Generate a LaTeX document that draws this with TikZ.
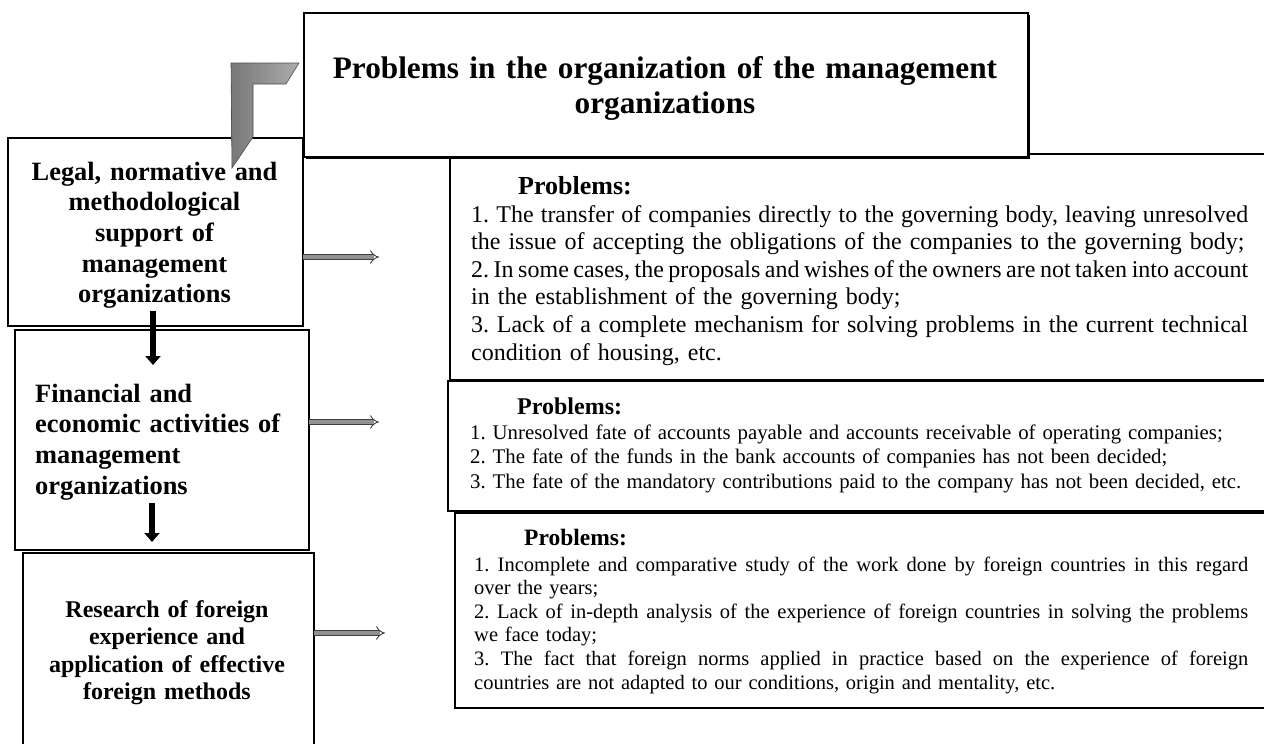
\documentclass[tikz,border=0pt]{standalone}
\usepackage{fontspec}
\setmainfont{Liberation Serif}
\usetikzlibrary{arrows.meta,shadows}
\definecolor{bentL}{RGB}{120,120,120}
\definecolor{bentR}{RGB}{172,172,172}
\definecolor{arrowfill}{RGB}{145,145,145}
\newcommand{\jl}[1]{\leavevmode{\spaceskip=0.25em plus 1em minus 0.1em\relax\hbox to\linewidth{#1}}}
\tikzset{
  frame/.style={draw=black, line width=1.5pt, fill=white, inner sep=0pt, anchor=north west,
    drop shadow={shadow xshift=1.5pt, shadow yshift=-1.5pt, opacity=1, fill=black}},
  titleframe/.style={frame, line width=2pt,
    drop shadow={shadow xshift=2pt, shadow yshift=-2pt, opacity=1, fill=black}},
  lefttext/.style={inner sep=0pt, font=\frenchspacing\fontsize{26.4}{30.7}\selectfont\bfseries},
  probtext/.style={inner sep=0pt, anchor=base west, align=left},
  garrow/.style={draw=black!75, line width=0.9pt, double=arrowfill, double distance=3.8pt, -{Implies}},
  barrow/.style={line width=6.5pt, -{Triangle[length=9pt,width=15pt]}},
}
\begin{document}
\frenchspacing
\begin{tikzpicture}[x=1pt,y=-1pt]
\useasboundingbox (0,0) rectangle (1264,744);
\clip (0,0) rectangle (1264,744);

% left boxes
\node[frame, minimum width=295pt, minimum height=188pt] (b1) at (7,137) {};
\node[frame, minimum width=294pt, minimum height=220pt] (b2) at (14,329) {};
\node[frame, minimum width=291pt, minimum height=215pt] (b3) at (22,552) {};

% right boxes
\node[frame, minimum width=831pt, minimum height=226pt] (r1) at (449,153) {};
\node[frame, minimum width=833pt, minimum height=130pt] (r2) at (447,380) {};
\node[frame, minimum width=826pt, minimum height=195pt] (r3) at (454,512) {};

% title
\node[titleframe, minimum width=724pt, minimum height=144pt] (tb) at (303,12) {};
\node[inner sep=0pt, anchor=base, text width=724pt, align=center,
  font=\fontsize{31.25}{35}\selectfont\bfseries] (tt) at (665,78)
  {Problems in the organization of the management\\organizations};

% bent arrow
\path[draw=black!70, line width=0.6pt, left color=bentL, right color=bentR]
  (231,63) -- (299,63) -- (286,84) -- (253,84) -- (253,137) -- (232,168) -- cycle;

% left texts
\node[lefttext, anchor=base, text width=290pt, align=center] (t1) at (154.5,180)
  {Legal, normative and\\methodological\\support of\\management\\organizations};
\node[lefttext, anchor=base west, text width=272pt, align=left] (t2) at (35,402)
  {Financial and\\economic activities of\\management\\organizations};
\node[inner sep=0pt, anchor=base, text width=285pt, align=center,
  font=\fontsize{24}{27.6}\selectfont\bfseries] (t3) at (167,617)
  {Research of foreign\\experience and\\application of effective\\foreign methods};

% right texts
\node[probtext, text width=777pt, font=\fontsize{24}{27.6}\selectfont] (p1) at (471,194.4)
  {\hspace*{47pt}{\bfseries\fontsize{26}{27.6}\selectfont Problems:}\\
   \jl{1. The transfer of companies directly to the governing body, leaving unresolved}\\
   the issue of accepting the obligations of the companies to the governing body;\\
   \jl{2. In some cases, the proposals and wishes of the owners are not taken into account}\\
   in the establishment of the governing body;\\
   \jl{3. Lack of a complete mechanism for solving problems in the current technical}\\
   condition of housing, etc.};
\node[probtext, text width=800pt, font=\fontsize{20.8}{24.5}\selectfont] (p2) at (470,414.5)
  {\hspace*{47pt}{\bfseries\fontsize{24}{24.5}\selectfont Problems:}\\
   1. Unresolved fate of accounts payable and accounts receivable of operating companies;\\
   2. The fate of the funds in the bank accounts of companies has not been decided;\\
   3. The fate of the mandatory contributions paid to the company has not been decided, etc.};
\node[probtext, text width=774pt, font=\fontsize{20.5}{23.6}\selectfont] (p3) at (474,545)
  {\hspace*{50pt}{\bfseries\fontsize{23.5}{23.6}\selectfont Problems:}\\[2.4pt]
   \jl{1. Incomplete and comparative study of the work done by foreign countries in this regard}\\
   over the years;\\
   \jl{2. Lack of in-depth analysis of the experience of foreign countries in solving the problems}\\
   we face today;\\
   \jl{3. The fact that foreign norms applied in practice based on the experience of foreign}\\
   countries are not adapted to our conditions, origin and mentality, etc.};

% arrows
\coordinate (g1s) at (303,257);
\coordinate (g1e) at (379,257);
\coordinate (g2s) at (309,422);
\coordinate (g2e) at (379,422);
\coordinate (g3s) at (314,633);
\coordinate (g3e) at (385,633);
\draw[garrow] (g1s) -- (g1e);
\draw[garrow] (g2s) -- (g2e);
\draw[garrow] (g3s) -- (g3e);

\coordinate (d1s) at (153,311);
\coordinate (d1e) at (153,365);
\coordinate (d2s) at (152,503);
\coordinate (d2e) at (152,542);
\draw[barrow] (d1s) -- (d1e);
\draw[barrow] (d2s) -- (d2e);
\end{tikzpicture}
\end{document}
